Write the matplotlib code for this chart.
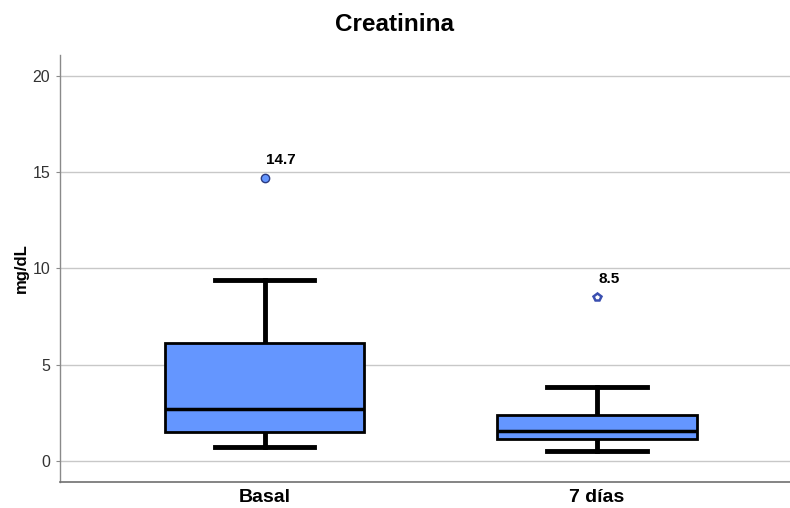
import matplotlib.pyplot as plt

plt.rcParams['font.family'] = ['Liberation Sans', 'DejaVu Sans']

groups = ['Basal', '7 días']
whislo = [0.73, 0.52]
q1 = [1.51, 1.14]
med = [2.70, 1.56]
q3 = [6.13, 2.39]
whishi = [9.40, 3.84]
outliers = [14.7, 8.5]
outlier_labels = ['14.7', '8.5']

box_color = '#6496FF'

fig = plt.figure(figsize=(7.9, 5.08), dpi=100)
ax = fig.add_axes([0.076, 0.051, 0.924, 0.841])

stats = []
for i, g in enumerate(groups):
    stats.append(dict(label=g, whislo=whislo[i], q1=q1[i], med=med[i],
                      q3=q3[i], whishi=whishi[i], fliers=[]))

ax.bxp(stats, positions=[1, 2], widths=0.6, patch_artist=True,
       showfliers=False,
       boxprops=dict(facecolor=box_color, edgecolor='black', linewidth=2, zorder=3),
       medianprops=dict(color='black', linewidth=2.5, zorder=3.5),
       whiskerprops=dict(color='black', linewidth=3.5, zorder=2.5),
       capprops=dict(color='black', linewidth=3.5, zorder=2.5),
       capwidths=0.3)

# outlier (circle) and extreme (star-like) markers
ax.plot([1], [outliers[0]], marker='o', markersize=6, markerfacecolor=box_color,
        markeredgecolor='#2a3a80', markeredgewidth=1, linestyle='none', zorder=4)
ax.plot([2], [outliers[1]], marker='p', markersize=6, markerfacecolor='white',
        markeredgecolor='#3a4fb0', markeredgewidth=1.8, linestyle='none', zorder=4)
for x, y, t in zip([1, 2], outliers, outlier_labels):
    ax.annotate(t, (x, y), xytext=(1, 8), textcoords='offset points',
                fontsize=11, fontweight='bold', ha='left', va='bottom')

ax.set_xlim(0.385, 2.58)
ax.set_ylim(-1.1, 21.1)
ax.set_yticks([0, 5, 10, 15, 20])
ax.yaxis.grid(True, color='#c8c8c8', linewidth=1)
ax.set_axisbelow(True)

for s in ['top', 'right']:
    ax.spines[s].set_visible(False)
ax.spines['left'].set_color('#8a8a8a')
ax.spines['bottom'].set_color('#707070')
ax.spines['left'].set_linewidth(1)
ax.spines['bottom'].set_linewidth(1.2)

ax.tick_params(axis='y', labelsize=11.5, colors='#8a8a8a', labelcolor='#333333',
               length=3, pad=4)
ax.tick_params(axis='x', length=0, labelsize=14, pad=5)
for lbl in ax.get_xticklabels():
    lbl.set_fontweight('bold')

ax.set_ylabel('mg/dL', fontsize=12, fontweight='bold', labelpad=3)
fig.suptitle('Creatinina', fontsize=17.5, fontweight='bold', y=0.975)

fig.savefig('out.png', dpi=100)
